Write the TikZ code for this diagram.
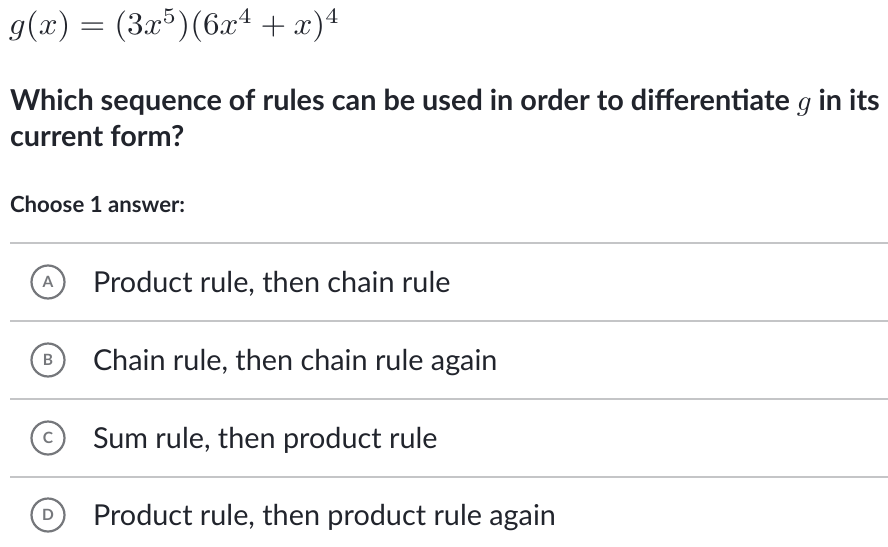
\documentclass[tikz,border=0pt]{standalone}
\usepackage{fontspec}
\setmainfont{Lato}
\definecolor{ink}{HTML}{21242C}
\definecolor{rulegrey}{HTML}{C4C5C7}
\definecolor{circgrey}{HTML}{75777B}
\newcommand{\bigmath}[3]{{\fontsize{10}{12}\selectfont\scalebox{#1}[#2]{$#3$}}}
\tikzset{
  txt/.style={anchor=base west, inner sep=0pt, outer sep=0pt, text=ink},
  opt/.style={circle, draw=circgrey, line width=2.2pt, minimum size=33pt, inner sep=0pt, text=circgrey, font=\fontsize{15.5}{15.5}\selectfont\bfseries},
  sep/.style={draw=rulegrey, line width=1.1pt}
}
\begin{document}
\begin{tikzpicture}[x=1pt,y=-1pt]
\useasboundingbox[fill=white] (0,0) rectangle (888,546);
\node[txt] (f) at (9,34.5) {\bigmath{3.3}{3.15}{g(x) = (3x^5)(6x^4+x)^4}};
\node[txt, font=\fontsize{28.8}{33}\selectfont\bfseries] (q1) at (10,110.5) {Which sequence of rules can be used in order to differentiate \bigmath{2.9}{2.9}{g} in its};
\node[txt, font=\fontsize{28.8}{33}\selectfont\bfseries] (q2) at (10,146) {current form?};
\node[txt, font=\fontsize{22.2}{25}\selectfont\bfseries] (ch) at (10,212) {Choose 1 answer:};
\coordinate (l0a) at (10,243); \coordinate (l0b) at (888,243);
\coordinate (l1a) at (10,321); \coordinate (l1b) at (888,321);
\coordinate (l2a) at (10,399); \coordinate (l2b) at (888,399);
\coordinate (l3a) at (10,477); \coordinate (l3b) at (888,477);
\draw[sep] (l0a) -- (l0b);
\draw[sep] (l1a) -- (l1b);
\draw[sep] (l2a) -- (l2b);
\draw[sep] (l3a) -- (l3b);
\node[opt] (ca) at (48,282) {A};
\node[opt] (cb) at (48,360) {B};
\node[opt] (cc) at (48,438) {C};
\node[opt] (cd) at (48,515) {D};
\node[txt, font=\fontsize{28.8}{33}\selectfont] (ta) at (93,292) {Product rule, then chain rule};
\node[txt, font=\fontsize{28.8}{33}\selectfont] (tb) at (93,370) {Chain rule, then chain rule again};
\node[txt, font=\fontsize{28.8}{33}\selectfont] (tc) at (93,448) {Sum rule, then product rule};
\node[txt, font=\fontsize{28.8}{33}\selectfont] (td) at (93,525) {Product rule, then product rule again};
\end{tikzpicture}
\end{document}
